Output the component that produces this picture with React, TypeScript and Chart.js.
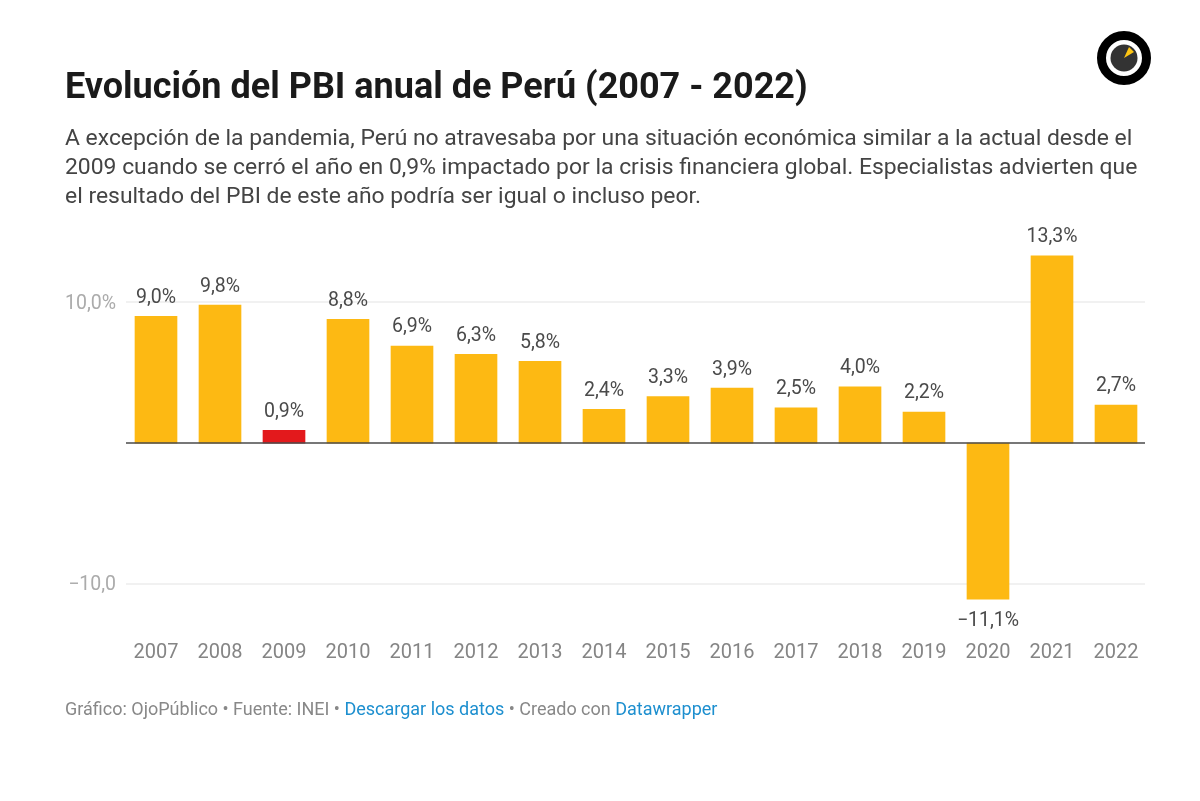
import { useEffect, useRef } from "react";
import { Chart, registerables } from "chart.js";

Chart.register(...registerables);

const years = ["2007", "2008", "2009", "2010", "2011", "2012", "2013", "2014", "2015", "2016", "2017", "2018", "2019", "2020", "2021", "2022"];
const growth = [9.0, 9.8, 0.9, 8.8, 6.9, 6.3, 5.8, 2.4, 3.3, 3.9, 2.5, 4.0, 2.2, -11.1, 13.3, 2.7];
const highlightYear = "2009";
const gridValues = [-10, 10];
const gridLabels: Record<string, string> = { "10": "10,0%", "-10": "−10,0" };

const FONT = "Roboto";

function formatValue(v: number) {
  return v.toFixed(1).replace(".", ",").replace("-", "−") + "%";
}

const linesPlugin = {
  id: "lines",
  beforeDatasetsDraw(chart: any) {
    const { ctx, chartArea, scales } = chart;
    const draw = (value: number, color: string, width: number) => {
      const y = Math.round(scales.y.getPixelForValue(value));
      ctx.save();
      ctx.strokeStyle = color;
      ctx.lineWidth = width;
      ctx.beginPath();
      ctx.moveTo(chartArea.left + 2, y);
      ctx.lineTo(chartArea.right - 3, y);
      ctx.stroke();
      ctx.restore();
    };
    gridValues.forEach((v) => draw(v, "#ececec", 1.5));
  },
  afterDatasetsDraw(chart: any) {
    const { ctx, chartArea, scales } = chart;
    // zero line sits on top of the bars
    const zero = Math.round(scales.y.getPixelForValue(0));
    ctx.save();
    ctx.strokeStyle = "#4a4a4a";
    ctx.lineWidth = 1.5;
    ctx.beginPath();
    ctx.moveTo(chartArea.left + 2, zero);
    ctx.lineTo(chartArea.right - 3, zero);
    ctx.stroke();

    // value labels
    ctx.fillStyle = "#4a4a4a";
    ctx.font = `19.5px ${FONT}`;
    ctx.textAlign = "center";
    ctx.textBaseline = "middle";
    chart.getDatasetMeta(0).data.forEach((bar: any, i: number) => {
      const v = growth[i];
      ctx.fillText(formatValue(v), bar.x, v < 0 ? bar.y + 22 : bar.y - 18.5);
    });
    ctx.restore();
  },
};

export default function App() {
  const chartRef = useRef<HTMLCanvasElement>(null);

  useEffect(() => {
    if (!chartRef.current) return;
    document.body.style.margin = "0";
    document.body.style.background = "#ffffff";

    const chart = new Chart(chartRef.current, {
      type: "bar",
      data: {
        labels: years,
        datasets: [
          {
            data: growth,
            backgroundColor: years.map((y) => (y === highlightYear ? "#e3191c" : "#fdb913")),
            barThickness: 42,
            borderWidth: 0,
          },
        ],
      },
      options: {
        animation: false,
        responsive: false,
        layout: { padding: { top: 232, right: 52, left: 0, bottom: 0 } },
        plugins: { legend: { display: false }, tooltip: { enabled: false } },
        scales: {
          x: {
            grid: { display: false, drawTicks: false },
            border: { display: false },
            ticks: { color: "#858585", font: { family: FONT, size: 20 }, padding: 8, maxRotation: 0, autoSkip: false },
            afterFit: (scale: any) => {
              scale.height = 801 - 633;
            },
          },
          y: {
            min: -13.5,
            max: 15,
            grid: { display: false, drawTicks: false },
            border: { display: false },
            afterBuildTicks: (scale: any) => {
              scale.ticks = gridValues.map((value) => ({ value }));
            },
            ticks: {
              color: "#ababab",
              font: { family: FONT, size: 19.5 },
              padding: 8,
              labelOffset: 1.5,
              callback: (value: any) => gridLabels[String(value)] ?? "",
            },
            afterFit: (scale: any) => {
              scale.width = 124;
            },
          },
        },
      },
      plugins: [linesPlugin],
    });

    return () => {
      chart.destroy();
    };
  }, []);

  return (
    <div style={{ position: "relative", width: 1200, height: 801, overflow: "hidden", fontFamily: FONT, background: "#fff" }}>
      <canvas ref={chartRef} width={1200} height={801} style={{ position: "absolute", left: 0, top: 0 }} />
      <div style={{ position: "absolute", left: 65, top: 66, fontSize: 36, fontWeight: 700, color: "#1a1a1a", whiteSpace: "nowrap", lineHeight: "40px" }}>
        Evolución del PBI anual de Perú (2007 - 2022)
      </div>
      <div style={{ position: "absolute", left: 65, top: 123, width: 1100, fontSize: 22.9, color: "#444", lineHeight: "29px" }}>
        <div style={{ whiteSpace: "nowrap" }}>A excepción de la pandemia, Perú no atravesaba por una situación económica similar a la actual desde el</div>
        <div style={{ whiteSpace: "nowrap" }}>2009 cuando se cerró el año en 0,9% impactado por la crisis financiera global. Especialistas advierten que</div>
        <div style={{ whiteSpace: "nowrap" }}>el resultado del PBI de este año podría ser igual o incluso peor.</div>
      </div>
      <div style={{ position: "absolute", left: 65, top: 698, fontSize: 18, color: "#888", lineHeight: "22px", whiteSpace: "nowrap" }}>
        Gráfico: OjoPúblico • Fuente: INEI • <span style={{ color: "#1d8fcf" }}>Descargar los datos</span> • Creado con <span style={{ color: "#1d8fcf" }}>Datawrapper</span>
      </div>
      <svg width={60} height={60} viewBox="0 0 60 60" style={{ position: "absolute", left: 1094, top: 28 }}>
        <circle cx={30} cy={30} r={22.5} fill="none" stroke="#000" strokeWidth={9} />
        <circle cx={30} cy={30} r={13.5} fill="#333" />
        <path d="M30 30 L35 19 L40 24 Z" fill="#fdc513" />
      </svg>
    </div>
  );
}
